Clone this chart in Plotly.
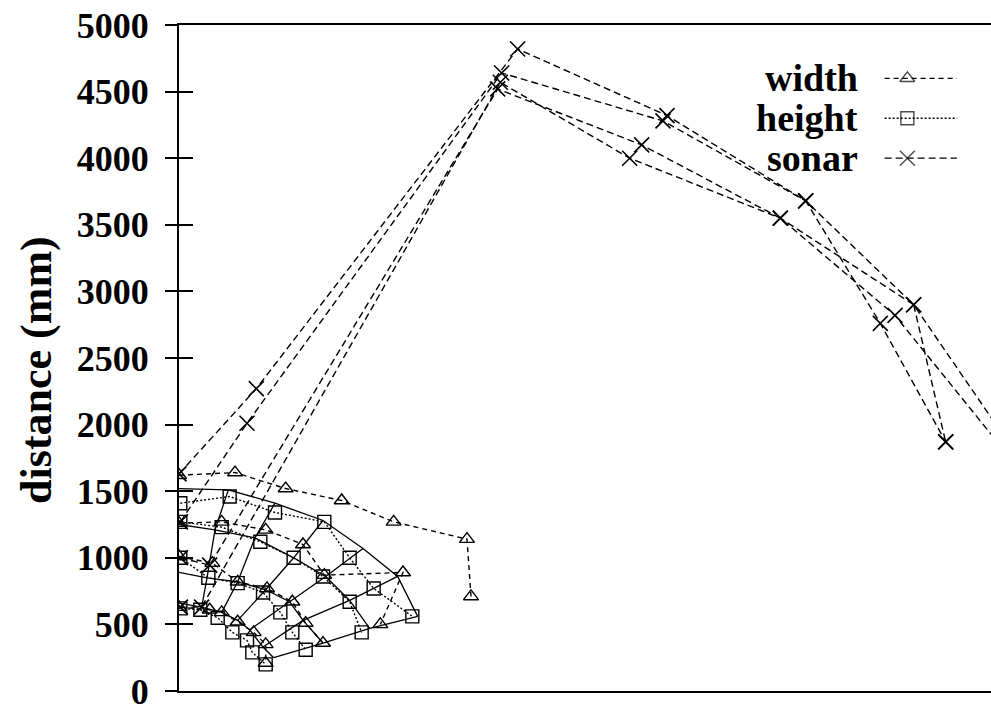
import plotly.graph_objects as go

# ---------------- data (mm) ----------------
# sonar scans (dashed, x markers)
sonar_x = [
    [0, 580, 2540, 3660, 4700, 5260, 5750],
    [10, 510, 2420, 3630, 4700, 5510, 5750],
    [10, 230, 2390, 3470, 4510, 5370, 6250],
    [10, 170, 2410, 3380, 4510, 5510, 6230],
]
sonar_y = [
    [1630, 2270, 4820, 4320, 3680, 2760, 1870],
    [1270, 2010, 4640, 4280, 3680, 2900, 1870],
    [1000, 945, 4520, 4100, 3550, 2820, 1730],
    [630, 630, 4570, 4000, 3550, 2900, 1850],
]

# width estimates (dashed, triangles)
width_x = [
    [0, 420, 800, 1220, 1610, 2160, 2190],
    [0, 320, 650, 930, 1090, 1680, 1510],
    [0, 250, 440, 660, 850, 950, 1080],
    [0, 230, 320, 440, 560, 650, 650],
]
width_y = [
    [1620, 1640, 1520, 1430, 1270, 1140, 710],
    [1260, 1270, 1210, 1100, 870, 890, 500],
    [1010, 960, 820, 770, 670, 510, 360],
    [630, 610, 590, 520, 440, 350, 210],
]

# height estimates (dotted, squares)
height_x = [
    [10, 380, 720, 1090, 1280, 1460, 1750],
    [10, 320, 610, 860, 1080, 1280, 1370],
    [10, 220, 440, 630, 760, 850, 950],
    [10, 160, 290, 400, 510, 550, 650],
]
height_y = [
    [1410, 1460, 1340, 1270, 1000, 770, 560],
    [1270, 1230, 1120, 1000, 860, 670, 440],
    [1000, 850, 810, 740, 590, 440, 310],
    [620, 610, 550, 440, 380, 290, 200],
]

# reference grid (solid lines): arcs A..D, columns 0..6
grid_x = [
    [0, 370, 720, 1080, 1380, 1640, 1790],
    [0, 270, 570, 860, 1100, 1280, 1430],
    [0, 210, 440, 650, 830, 930, 1080],
    [0, 170, 320, 440, 530, 630, 710],
]
grid_y = [
    [1520, 1510, 1410, 1280, 1070, 860, 560],
    [1250, 1210, 1150, 1000, 860, 680, 470],
    [890, 850, 820, 760, 670, 530, 360],
    [660, 630, 590, 530, 460, 330, 250],
]

y_ticks = [0, 500, 1000, 1500, 2000, 2500, 3000, 3500, 4000, 4500, 5000]
x_range = [0, 6090]
y_range = [0, 5000]

series_names = ["width", "height", "sonar"]

# ---------------- figure ----------------
FONT = "Liberation Serif"
fig = go.Figure()

# solid grid: arcs
for gx, gy in zip(grid_x, grid_y):
    fig.add_trace(go.Scatter(x=gx, y=gy, mode="lines",
                             line=dict(color="black", width=1.3),
                             showlegend=False, hoverinfo="skip"))
# solid grid: radials (columns 1..6)
for j in range(1, len(grid_x[0])):
    fig.add_trace(go.Scatter(x=[row[j] for row in grid_x],
                             y=[row[j] for row in grid_y], mode="lines",
                             line=dict(color="black", width=1.3),
                             showlegend=False, hoverinfo="skip"))

styles = {
    "width": dict(dash="5px,4px", symbol="triangle-up-open", size=13),
    "height": dict(dash="2px,2px", symbol="square-open", size=13),
    "sonar": dict(dash="7px,4px", symbol="x-thin-open", size=15),
}

for xs, ys in zip(height_x, height_y):
    st = styles["height"]
    fig.add_trace(go.Scatter(x=xs, y=ys, mode="lines+markers",
                             line=dict(color="black", width=1.4, dash=st["dash"]),
                             marker=dict(symbol=st["symbol"], size=st["size"], color="black",
                                         line=dict(width=1.4, color="black")),
                             showlegend=False))
for xs, ys in zip(width_x, width_y):
    st = styles["width"]
    fig.add_trace(go.Scatter(x=xs, y=ys, mode="lines+markers",
                             line=dict(color="black", width=1.4, dash=st["dash"]),
                             marker=dict(symbol=st["symbol"], size=st["size"], color="black",
                                         line=dict(width=1.4, color="black")),
                             showlegend=False))
for xs, ys in zip(sonar_x, sonar_y):
    st = styles["sonar"]
    fig.add_trace(go.Scatter(x=xs, y=ys, mode="lines+markers",
                             line=dict(color="black", width=1.4, dash=st["dash"]),
                             marker=dict(symbol=st["symbol"], size=st["size"], color="black",
                                         line=dict(width=1.6, color="black")),
                             showlegend=False))

# legend built on a hidden overlay axis (paper-like units)
leg_text_x = 0.839
leg_line_x = [0.869, 0.897, 0.958]
leg_rows_y = [0.920, 0.860, 0.800]
for name, ly in zip(series_names, leg_rows_y):
    st = styles[name]
    fig.add_trace(go.Scatter(x=leg_line_x, y=[ly] * 3, mode="lines+markers",
                             xaxis="x2", yaxis="y2",
                             line=dict(color="black", width=1.3, dash=st["dash"]),
                             marker=dict(symbol=st["symbol"], size=[0, st["size"], 0],
                                         color="black", line=dict(width=1.4, color="black")),
                             showlegend=False, hoverinfo="skip"))
    fig.add_annotation(x=leg_text_x, y=ly, xref="paper", yref="paper",
                       text=name, showarrow=False, xanchor="right", yanchor="middle",
                       font=dict(family=FONT, size=38, color="black", weight="bold"))

# outward half of the y ticks, on an overlay axis
fig.add_trace(go.Scatter(x=[None], y=[None], yaxis="y3", showlegend=False))

fig.add_annotation(x=-0.175, y=0.482, xref="paper", yref="paper",
                   text="distance (mm)", textangle=-90, showarrow=False,
                   xanchor="center", yanchor="middle",
                   font=dict(family=FONT, size=44, color="black", weight="bold"))

fig.update_layout(
    width=991, height=711,
    margin=dict(l=179, r=0, t=25, b=20),
    paper_bgcolor="white", plot_bgcolor="white",
    showlegend=False,
    xaxis=dict(range=x_range, showgrid=False, zeroline=False, showticklabels=False,
               ticks="", showline=True, linecolor="black", linewidth=2, mirror=True),
    yaxis=dict(range=y_range, tickvals=y_ticks, showgrid=False, zeroline=False,
               ticks="inside", ticklen=14, tickwidth=1.5, tickcolor="black",
               showline=True, linecolor="black", linewidth=2, mirror=False,
               ticklabelstandoff=21, ticklabeloverflow="allow",
               tickfont=dict(family=FONT, size=36, color="black", weight="bold")),
    yaxis3=dict(range=y_range, overlaying="y", side="left", tickvals=y_ticks,
                showticklabels=False, ticks="outside", ticklen=13, tickwidth=1.5,
                tickcolor="black", showgrid=False, zeroline=False, showline=False),
    xaxis2=dict(range=[0, 1], domain=[0, 1], overlaying="x", visible=False),
    yaxis2=dict(range=[0, 1], domain=[0, 1], overlaying="y", visible=False),
)

fig.write_html("out.html",
               config={"displayModeBar": False},
               post_script="document.body.style.margin='0px';"
                           "document.body.style.overflow='hidden';")
